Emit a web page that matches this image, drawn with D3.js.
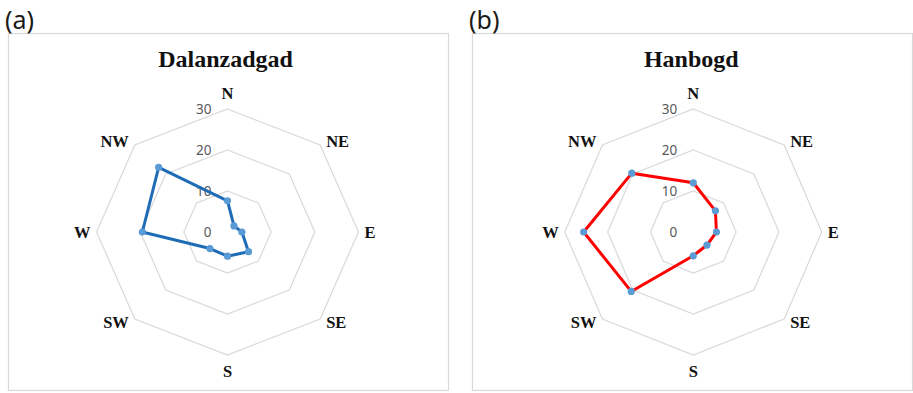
<!DOCTYPE html>
<html>
<head>
<meta charset="utf-8">
<script src="https://cdn.jsdelivr.net/npm/d3@7"></script>
<style>
  html, body { margin: 0; padding: 0; background: #fff; }
  svg { display: block; }
</style>
</head>
<body>
<svg id="chart" width="913" height="393"></svg>
<script>
// Wind direction sectors (clockwise from north)
const directions = ["N", "NE", "E", "SE", "S", "SW", "W", "NW"];
// Frequency per direction (%) at each station
const dalanzadgadValues = [7.6, 2.1, 3.3, 6.8, 5.9, 5.7, 19.5, 22.3];
const hanbogdValues = [12.0, 7.3, 5.4, 4.5, 5.8, 20.5, 25.6, 20.3];
const tickValues = [0, 10, 20, 30];
const panelLetters = ["(a)", "(b)"];
const stationNames = ["Dalanzadgad", "Hanbogd"];

const panels = [
  { letter: panelLetters[0], name: stationNames[0], values: dalanzadgadValues,
    frame: [8, 33, 440, 357], cx: 227.5, cy: 232, rx: 131, ry: 123,
    line: "#1f6cb6", marker: "#5b9bd5" },
  { letter: panelLetters[1], name: stationNames[1], values: hanbogdValues,
    frame: [472, 33, 440, 357], cx: 693.3, cy: 232, rx: 128.5, ry: 123,
    line: "#ff0000", marker: "#5b9bd5" }
];

const svg = d3.select("#chart");
const angle = d3.scalePoint().domain(directions).range([0, 2 * Math.PI * 7 / 8]);

panels.forEach(p => {
  const g = svg.append("g");

  // frame
  g.append("rect")
    .attr("x", p.frame[0] + 0.5).attr("y", p.frame[1] + 0.5)
    .attr("width", p.frame[2]).attr("height", p.frame[3])
    .attr("fill", "none").attr("stroke", "#d9d9d9").attr("stroke-width", 1.2);

  // panel letter
  g.append("text")
    .attr("x", p.frame[0] - 3).attr("y", 29)
    .attr("font-family", "'Noto Sans', sans-serif").attr("font-size", 25)
    .attr("fill", "#1a1a1a")
    .text(p.letter);

  // title
  g.append("text")
    .attr("x", p.cx - 2).attr("y", 66.5)
    .attr("text-anchor", "middle")
    .attr("font-family", "'Liberation Serif', 'Times New Roman', serif")
    .attr("font-weight", "bold").attr("font-size", 24)
    .attr("fill", "#111")
    .text(p.name);

  const sx = d3.scaleLinear().domain([0, 30]).range([0, p.rx]);
  const sy = d3.scaleLinear().domain([0, 30]).range([0, p.ry]);
  const px = (d, v) => p.cx + sx(v) * Math.sin(angle(d));
  const py = (d, v) => p.cy - sy(v) * Math.cos(angle(d));

  const ring = d3.line().curve(d3.curveLinearClosed);

  // grid rings
  g.append("g").selectAll("path")
    .data(tickValues.filter(t => t > 0))
    .join("path")
    .attr("d", t => ring(directions.map(d => [px(d, t), py(d, t)])))
    .attr("fill", "none").attr("stroke", "#d9d9d9").attr("stroke-width", 1.2);

  // tick labels along the north axis
  g.append("g").selectAll("text")
    .data(tickValues)
    .join("text")
    .attr("x", p.cx - 16)
    .attr("y", t => p.cy - sy(t) + 1)
    .attr("text-anchor", "end").attr("dominant-baseline", "middle")
    .attr("font-family", "'Noto Sans', sans-serif").attr("font-size", 13.5)
    .attr("fill", "#595959")
    .text(t => t);

  // direction labels
  const outer = tickValues[tickValues.length - 1];
  g.append("g").selectAll("text")
    .data(directions)
    .join("text")
    .each(function (d) {
      const a = angle(d), s = Math.sin(a), c = Math.cos(a);
      const x0 = px(d, outer), y0 = py(d, outer);
      const t = d3.select(this);
      if (Math.abs(s) < 1e-6) {
        t.attr("x", x0).attr("y", y0 - c * 16).attr("text-anchor", "middle");
      } else {
        t.attr("x", x0 + (s > 0 ? 6 : -6)).attr("y", y0 - c * 5.6)
         .attr("text-anchor", s > 0 ? "start" : "end");
      }
    })
    .attr("dominant-baseline", "central")
    .attr("font-family", "'Liberation Serif', 'Times New Roman', serif")
    .attr("font-weight", "bold").attr("font-size", 16.5)
    .attr("fill", "#111")
    .text(d => d);

  // data polygon
  const pts = directions.map((d, i) => [px(d, p.values[i]), py(d, p.values[i])]);
  g.append("path")
    .attr("d", ring(pts))
    .attr("fill", "none").attr("stroke", p.line).attr("stroke-width", 3)
    .attr("stroke-linejoin", "round");

  g.append("g").selectAll("circle")
    .data(pts)
    .join("circle")
    .attr("cx", d => d[0]).attr("cy", d => d[1]).attr("r", 3.6)
    .attr("fill", p.marker);
});
</script>
</body>
</html>
